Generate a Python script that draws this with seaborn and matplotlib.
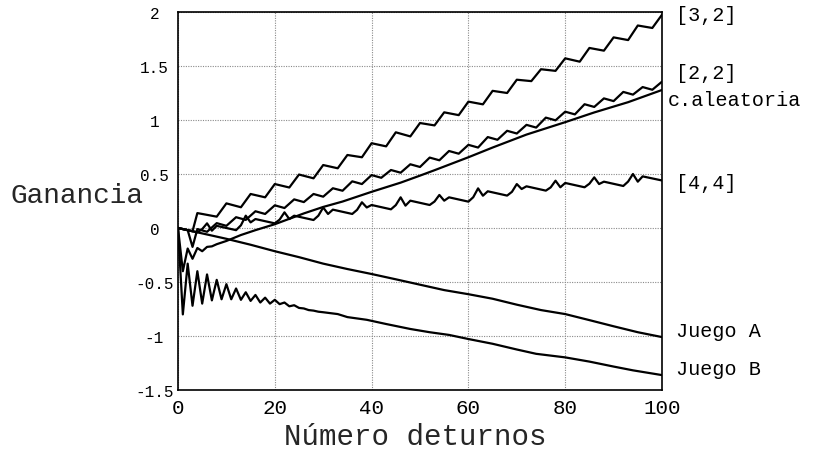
import matplotlib
matplotlib.use("Agg")
import matplotlib.pyplot as plt
import seaborn as sns
import pandas as pd

# ---- data: expected gain vs. number of turns ----
# deterministic sequence [3,2]
x_32 = [0, 3, 4, 5, 8, 10, 13, 15, 18, 20, 23, 25, 28, 30, 33, 35, 38, 40, 43, 45,
        48, 50, 53, 55, 58, 60, 63, 65, 68, 70, 73, 75, 78, 80, 83, 85, 88, 90, 93,
        95, 98, 100]
y_32 = [0.0, -0.03, 0.138, 0.13, 0.105, 0.228, 0.192, 0.315, 0.284, 0.407, 0.375,
        0.495, 0.46, 0.583, 0.553, 0.676, 0.655, 0.785, 0.756, 0.886, 0.848, 0.972,
        0.95, 1.071, 1.045, 1.17, 1.145, 1.27, 1.25, 1.373, 1.36, 1.47, 1.455, 1.571,
        1.54, 1.667, 1.642, 1.765, 1.74, 1.875, 1.852, 1.975]

# deterministic sequence [2,2]
x_22 = [0, 2, 3, 4, 6, 8, 10, 12, 14, 16, 18, 20, 22, 24, 26, 28, 30, 32, 34, 36,
        38, 40, 42, 44, 46, 48, 50, 52, 54, 56, 58, 60, 62, 64, 66, 68, 70, 72, 74,
        76, 78, 80, 82, 84, 86, 88, 90, 92, 94, 96, 98, 100]
y_22 = [0.0, -0.02, -0.175, -0.01, -0.035, 0.045, 0.02, 0.10, 0.075, 0.155, 0.13,
        0.21, 0.185, 0.265, 0.24, 0.315, 0.29, 0.368, 0.345, 0.432, 0.407, 0.49,
        0.465, 0.537, 0.512, 0.59, 0.565, 0.652, 0.627, 0.713, 0.688, 0.77, 0.745,
        0.842, 0.817, 0.90, 0.875, 0.955, 0.93, 1.022, 0.997, 1.077, 1.052, 1.146,
        1.121, 1.2, 1.175, 1.26, 1.235, 1.305, 1.28, 1.355]

# deterministic sequence [4,4]
x_44 = [0, 4, 5, 6, 7, 8, 12, 13, 14, 15, 16, 20, 21, 22, 23, 24, 28, 29, 30, 31,
        32, 36, 37, 38, 39, 40, 44, 45, 46, 47, 48, 52, 53, 54, 55, 56, 60, 61, 62,
        63, 64, 68, 69, 70, 71, 72, 76, 77, 78, 79, 80, 84, 85, 86, 87, 88, 92, 93,
        94, 95, 96, 100]
y_44 = [0.0, -0.04, -0.01, 0.043, -0.025, 0.02, -0.02, 0.025, 0.114, 0.052, 0.083,
        0.043, 0.078, 0.145, 0.083, 0.114, 0.074, 0.114, 0.19, 0.13, 0.17, 0.13,
        0.168, 0.238, 0.19, 0.213, 0.173, 0.212, 0.284, 0.207, 0.253, 0.213, 0.245,
        0.306, 0.253, 0.284, 0.244, 0.285, 0.367, 0.299, 0.34, 0.30, 0.335, 0.407,
        0.361, 0.386, 0.346, 0.376, 0.438, 0.377, 0.417, 0.377, 0.41, 0.469, 0.407,
        0.429, 0.389, 0.43, 0.5, 0.429, 0.478, 0.44]

# random combination of games A and B
x_al = [0, 1, 2, 3, 4, 5, 6, 7, 8, 10, 13, 16, 20, 23, 26, 30, 34, 40, 46, 50, 53,
        60, 65, 72, 80, 86, 93, 100]
y_al = [0.0, -0.40, -0.19, -0.285, -0.185, -0.215, -0.175, -0.17, -0.15, -0.12,
        -0.065, -0.02, 0.035, 0.085, 0.135, 0.195, 0.245, 0.335, 0.42, 0.485, 0.535,
        0.655, 0.745, 0.865, 0.98, 1.07, 1.165, 1.278]

# game A alone
x_a = [0, 5, 10, 15, 20, 25, 30, 35, 40, 45, 50, 55, 60, 65, 70, 75, 80, 85, 90, 95, 100]
y_a = [0.0, -0.05, -0.10, -0.155, -0.215, -0.27, -0.33, -0.38, -0.426, -0.475,
       -0.525, -0.575, -0.613, -0.655, -0.71, -0.76, -0.797, -0.853, -0.91, -0.965,
       -1.01]

# game B alone
x_b = [0, 1, 2, 3, 4, 5, 6, 7, 8, 9, 10, 11, 12, 13, 14, 15, 16, 17, 18, 19, 20,
       21, 22, 23, 24, 25, 26, 27, 28, 29, 30, 33, 35, 39, 43, 48, 52, 56, 60, 65,
       70, 74, 80, 85, 90, 94, 100]
y_b = [0.0, -0.80, -0.33, -0.72, -0.40, -0.70, -0.43, -0.67, -0.48, -0.66, -0.52,
       -0.66, -0.56, -0.665, -0.595, -0.675, -0.62, -0.69, -0.645, -0.70, -0.665,
       -0.705, -0.69, -0.725, -0.715, -0.74, -0.745, -0.76, -0.765, -0.775, -0.78,
       -0.797, -0.825, -0.85, -0.889, -0.935, -0.965, -0.99, -1.028, -1.072, -1.125,
       -1.165, -1.198, -1.237, -1.283, -1.318, -1.362]

series_names = ["[3,2]", "[2,2]", "c.aleatoria", "[4,4]", "Juego A", "Juego B"]
series_x = [x_32, x_22, x_al, x_44, x_a, x_b]
series_y = [y_32, y_22, y_al, y_44, y_a, y_b]

x_ticks = [0, 20, 40, 60, 80, 100]
x_tick_labels = ["0", "20", "40", "60", "80", "100"]
y_ticks = [-1.5, -1, -0.5, 0, 0.5, 1, 1.5, 2]
y_tick_labels = ["-1.5", "-1", "-0.5", "0", "0.5", "1", "1.5", "2"]

# end-of-curve labels (data coordinates)
label_pos = {
    "[3,2]": (102.9, 1.98),
    "[2,2]": (102.9, 1.44),
    "c.aleatoria": (101.2, 1.19),
    "[4,4]": (102.9, 0.42),
    "Juego A": (102.9, -0.95),
    "Juego B": (102.9, -1.30),
}

frames = [pd.DataFrame({"turno": xs, "ganancia": ys, "serie": name})
          for name, xs, ys in zip(series_names, series_x, series_y)]
df = pd.concat(frames, ignore_index=True)

sns.set_theme(style="white")
plt.rcParams["font.family"] = ["Liberation Mono", "DejaVu Sans"]
plt.rcParams["axes.unicode_minus"] = False

fig = plt.figure(figsize=(8.17, 4.52), dpi=100)
ax = fig.add_axes([178 / 817, 1 - 391 / 452, (662 - 178) / 817, (391 - 13) / 452])

sns.lineplot(data=df, x="turno", y="ganancia", units="serie", estimator=None,
             color="black", linewidth=1.6, ax=ax, legend=False)

ax.set_xlim(0, 100)
ax.set_ylim(-1.5, 2)
ax.set_xticks(x_ticks)
ax.set_xticklabels(x_tick_labels, fontsize=15)
ax.set_yticks(y_ticks)
ax.set_yticklabels(y_tick_labels, fontsize=11.5, ha="center")
ax.tick_params(axis="both", length=0, colors="black")
ax.tick_params(axis="y", pad=17)
ax.tick_params(axis="x", pad=6)

ax.grid(True, linestyle=(0, (1, 1.2)), color="#8a8a8a", linewidth=0.8)
for sp in ax.spines.values():
    sp.set_visible(True)
    sp.set_color("black")
    sp.set_linewidth(1.2)

ax.set_xlabel("Número deturnos", fontsize=21)
ax.xaxis.set_label_coords(0.49, -0.122)
ax.xaxis.label.set_va("center")
ax.set_ylabel("Ganancia", fontsize=20, rotation=0, ha="left", va="center")
ax.yaxis.set_label_coords((10 - 178) / 484, (391 - 196) / 378)

for name in series_names:
    lx, ly = label_pos[name]
    ax.text(lx, ly, name, fontsize=14.5, ha="left", va="center",
            color="black", clip_on=False)

fig.savefig("out.png", dpi=100, facecolor="white")
